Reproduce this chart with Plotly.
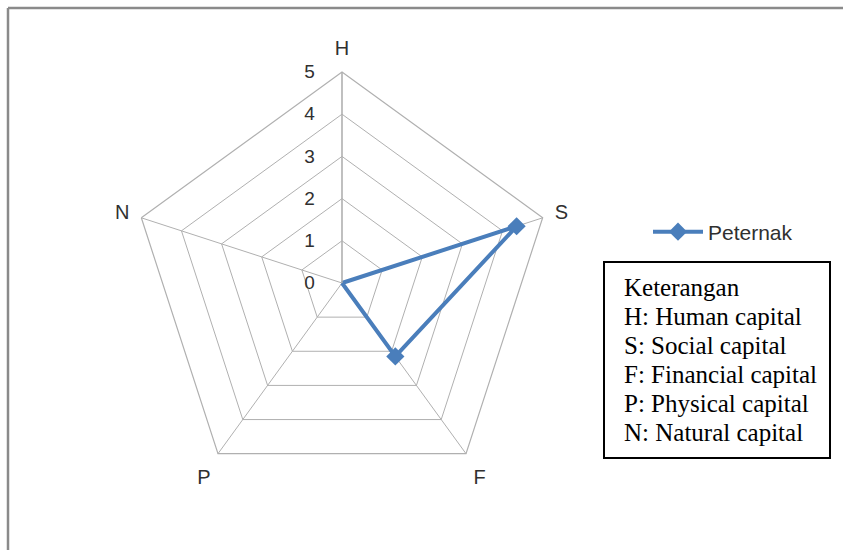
import plotly.graph_objects as go

categories = ["H", "S", "F", "P", "N"]
values = [0, 4.35, 2.15, 0, 0]
series_name = "Peternak"
radial_ticks = [0, 1, 2, 3, 4, 5]
notes_title = "Keterangan"
notes = ["H: Human capital", "S: Social capital", "F: Financial capital",
         "P: Physical capital", "N: Natural capital"]

W, H = 843, 550
blue = "#4a7ebb"
grid = "#b0b0b0"
sans = "Liberation Sans, Arial"

fig = go.Figure()
fig.add_trace(go.Scatterpolar(
    r=values + values[:1], theta=categories + categories[:1],
    mode="lines+markers", name=series_name,
    line=dict(color=blue, width=4),
    marker=dict(symbol="diamond", size=14, color=blue),
))

cx, cy, R = 342, 283, 211
fig.update_layout(
    width=W, height=H, margin=dict(l=0, r=0, t=0, b=0),
    paper_bgcolor="white", plot_bgcolor="white",
    polar=dict(
        domain=dict(x=[(cx - R) / W, (cx + R) / W], y=[(H - cy - R) / H, (H - cy + R) / H]),
        gridshape="linear", bgcolor="white",
        angularaxis=dict(rotation=90, direction="clockwise", showline=True, linecolor=grid,
                         linewidth=1.2, gridcolor=grid, gridwidth=1.2, ticks="outside", ticklen=8,
                         tickcolor="rgba(0,0,0,0)",
                         tickfont=dict(family=sans, size=20, color="#303030")),
        radialaxis=dict(range=[0, 5], tickvals=radial_ticks, angle=90, showline=True,
                        linecolor=grid, linewidth=1.2, gridcolor=grid, gridwidth=1.2,
                        ticks="outside", ticklen=20,
                        tickcolor="rgba(0,0,0,0)", side="counterclockwise", tickangle=90,
                        tickfont=dict(family=sans, size=19, color="#303030")),
    ),
    legend=dict(x=648 / W, y=1 - 232 / H, xanchor="left", yanchor="middle",
                font=dict(family=sans, size=21, color="#303030"),
                itemwidth=50, bgcolor="rgba(0,0,0,0)"),
    showlegend=True,
)

# outer frame
fig.add_shape(type="line", xref="paper", yref="paper", x0=8 / W, x1=1, y0=1 - 8 / H, y1=1 - 8 / H,
              line=dict(color="#8a8a8a", width=2.5))
fig.add_shape(type="line", xref="paper", yref="paper", x0=8 / W, x1=8 / W, y0=0, y1=1 - 8 / H,
              line=dict(color="#8a8a8a", width=2.5))

# notes box
fig.add_shape(type="rect", xref="paper", yref="paper", x0=604 / W, x1=830 / W,
              y0=1 - 458 / H, y1=1 - 262 / H, line=dict(color="black", width=2))
lines = [notes_title] + notes
for i, t in enumerate(lines):
    fig.add_annotation(xref="paper", yref="paper", x=622 / W, y=1 - (287 + 29 * i) / H,
                       xanchor="left", yanchor="middle", showarrow=False, text=t,
                       font=dict(family="Liberation Serif, Times New Roman", size=25, color="black"))

fig.write_html("out.html", config={"displayModeBar": False},
               post_script="document.body.style.margin='0';")
